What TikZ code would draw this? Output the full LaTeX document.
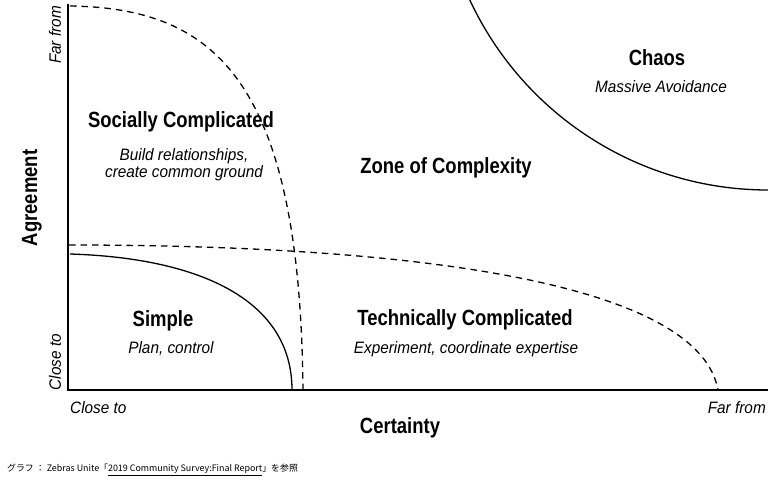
\documentclass[tikz,border=0pt]{standalone}
\usepackage{fontspec}
\setmainfont{Liberation Sans}[FakeStretch=0.84]
\newfontfamily\lightit{Liberation Sans}[FakeStretch=0.93]
\newfontfamily\cjk{Noto Sans CJK JP}
\usepackage{tikz}

\begin{document}
\begin{tikzpicture}[x=1pt, y=-1pt,
    title/.style={font=\fontsize{22}{24}\selectfont\bfseries},
    subtitle/.style={font=\lightit\fontsize{16.5}{17}\selectfont\itshape, align=center},
    axislabel/.style={font=\lightit\fontsize{16.5}{19}\selectfont\itshape},
    axisline/.style={line width=2.6pt},
    border/.style={line width=1.3pt},
    zone/.style={line width=1.3pt, dash pattern=on 6.5pt off 5pt}]
            \useasboundingbox (0,0) rectangle (768,482);

            % Axes
            \coordinate (top) at (68,4);
            \coordinate (origin) at (68,390);
            \coordinate (right) at (768,390);
            \draw[axisline] (top) -- (origin) -- (right);

            % Boundaries
            \draw[zone] (70,6) .. controls (215,8) and (300,80) .. (303,390);
            \draw[zone] (69,245) .. controls (450,245) and (700,290) .. (718,390);
            \draw[border] (70,254) .. controls (200,258) and (292,300) .. (292,390);
            \draw[border] (768,-139) ++(155:329) arc (155:90:329);

            % Regions
            \node[title] (chaos) at (657,58) {Chaos};
            \node[subtitle] (chaossub) at (661,87) {Massive Avoidance};
            \node[title] (social) at (181,122) {Socially Complicated};
            \node[subtitle] (socialsub) at (184,165) {Build relationships,\\create common ground};
            \node[title] (zone) at (446,168) {Zone of Complexity};
            \node[title] (simple) at (163,321) {Simple};
            \node[subtitle] (simplesub) at (171,349) {Plan, control};
            \node[title] (tech) at (465,320) {Technically Complicated};
            \node[subtitle] (techsub) at (466,349) {Experiment, coordinate expertise};

            % Axis labels
            \node[title, rotate=90] (agreement) at (32,198) {Agreement};
            \node[axislabel, rotate=90] (yfar) at (55,35) {Far from};
            \node[axislabel, rotate=90] (yclose) at (55,362) {Close to};
            \node[axislabel, anchor=west, inner sep=0pt] (xclose) at (70,408) {Close to};
            \node[axislabel, anchor=east, inner sep=0pt] (xfar) at (766,408) {Far from};
            \node[title] (certainty) at (400,428) {Certainty};

            % Source
            \node[anchor=west, inner sep=0pt, font=\cjk\fontsize{8.9}{10}\selectfont] (source) at (7,470)
                {グラフ ： Zebras Unite「\underline{2019 Community Survey:Final Report}」を参照};
        \end{tikzpicture}
\end{document}
